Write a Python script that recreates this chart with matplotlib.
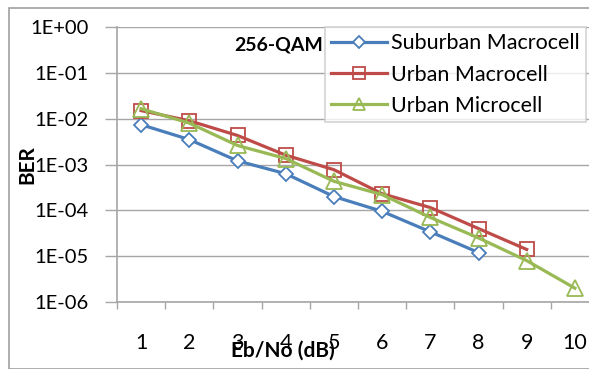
"""BER vs Eb/No for 256-QAM in three channel environments."""
import matplotlib

matplotlib.use("Agg")
import matplotlib.pyplot as plt
from matplotlib.patches import Rectangle
from matplotlib.ticker import FixedLocator, NullFormatter

plt.rcParams["font.family"] = ["Lato", "DejaVu Sans"]

ebno = [1, 2, 3, 4, 5, 6, 7, 8, 9, 10]
suburban_macro = [7.4e-3, 3.5e-3, 1.2e-3, 6.3e-4, 2.0e-4, 9.5e-5, 3.4e-5, 1.2e-5]
urban_macro = [1.5e-2, 9.0e-3, 4.3e-3, 1.6e-3, 7.7e-4, 2.3e-4, 1.15e-4, 4.0e-5, 1.4e-5]
urban_micro = [1.65e-2, 8.0e-3, 2.6e-3, 1.35e-3, 4.3e-4, 2.2e-4, 7.0e-5, 2.5e-5, 8.0e-6, 2.0e-6]
ytick_vals = [1e0, 1e-1, 1e-2, 1e-3, 1e-4, 1e-5, 1e-6]
ytick_labels = ["1E+00", "1E-01", "1E-02", "1E-03", "1E-04", "1E-05", "1E-06"]

grid_col = "#a6a6a6"

fig = plt.figure(figsize=(5.89, 3.69), dpi=100)
# outer chart border
fig.patches.append(Rectangle((9 / 589, 0), 1.2, 1 - 8 / 369, transform=fig.transFigure,
                             fill=False, edgecolor="#a0a0a0", linewidth=1.2))

ax = fig.add_axes([117 / 589, 1 - 302 / 369, 482 / 589, 275 / 369])

ax.plot(ebno[:len(suburban_macro)], suburban_macro, color="#4a7ebb", lw=2.3,
        marker="D", ms=7, mfc="white", mec="#4a7ebb", mew=1.3, label="Suburban Macrocell")
ax.plot(ebno[:len(urban_macro)], urban_macro, color="#be4b48", lw=2.3,
        marker="s", ms=10, mfc="none", mec="#be4b48", mew=1.3, label="Urban Macrocell")
ax.plot(ebno[:len(urban_micro)], urban_micro, color="#98b954", lw=2.3,
        marker="^", ms=11, mfc="none", mec="#98b954", mew=1.3, label="Urban Microcell")

ax.set_yscale("log")
ax.set_ylim(1e-6, 1e0)
ax.set_yticks(ytick_vals)
ax.set_yticklabels(ytick_labels)
ax.yaxis.set_minor_locator(FixedLocator([]))
ax.tick_params(axis="y", which="major", length=9, width=1, color=grid_col,
               labelsize=14.5, pad=11.5)

ax.set_xlim(0.5, 10.5)
ax.set_xticks(ebno)
ax.set_xticklabels([str(v) for v in ebno])
ax.xaxis.set_minor_locator(FixedLocator([v - 0.5 for v in ebno] + [10.5]))
ax.xaxis.set_minor_formatter(NullFormatter())
ax.tick_params(axis="x", which="major", length=0, labelsize=15.5, pad=22)
ax.tick_params(axis="x", which="minor", length=5, width=1, color=grid_col)

ax.grid(axis="y", which="major", color=grid_col, lw=1)
for side in ["top", "right"]:
    ax.spines[side].set_visible(False)
for side in ["left", "bottom"]:
    ax.spines[side].set_color(grid_col)
    ax.spines[side].set_linewidth(1.2)

ax.set_ylabel("BER", fontsize=15, fontweight="bold")
ax.yaxis.set_label_coords(-(117 - 37) / 482, 0.5)
ax.set_xlabel("Eb/No (dB)", fontsize=15, fontweight="bold")
ax.xaxis.set_label_coords((283 - 117) / 482, -(341 - 302) / 275)

ax.text((323 - 117) / 482, 1 - (45 - 27) / 275, "256-QAM", transform=ax.transAxes,
        ha="right", va="center", fontsize=14, fontweight="bold")

leg = ax.legend(loc="upper left", bbox_to_anchor=((325 - 117) / 482, 1.0),
                fontsize=15.5, frameon=True, fancybox=False, edgecolor="#c8c8c8",
                handlelength=2.6, handletextpad=0.15, borderpad=0.3, labelspacing=0.52,
                borderaxespad=0, markerscale=0.85)
leg.get_frame().set_linewidth(1.2)

fig.savefig("out.png", dpi=100)
